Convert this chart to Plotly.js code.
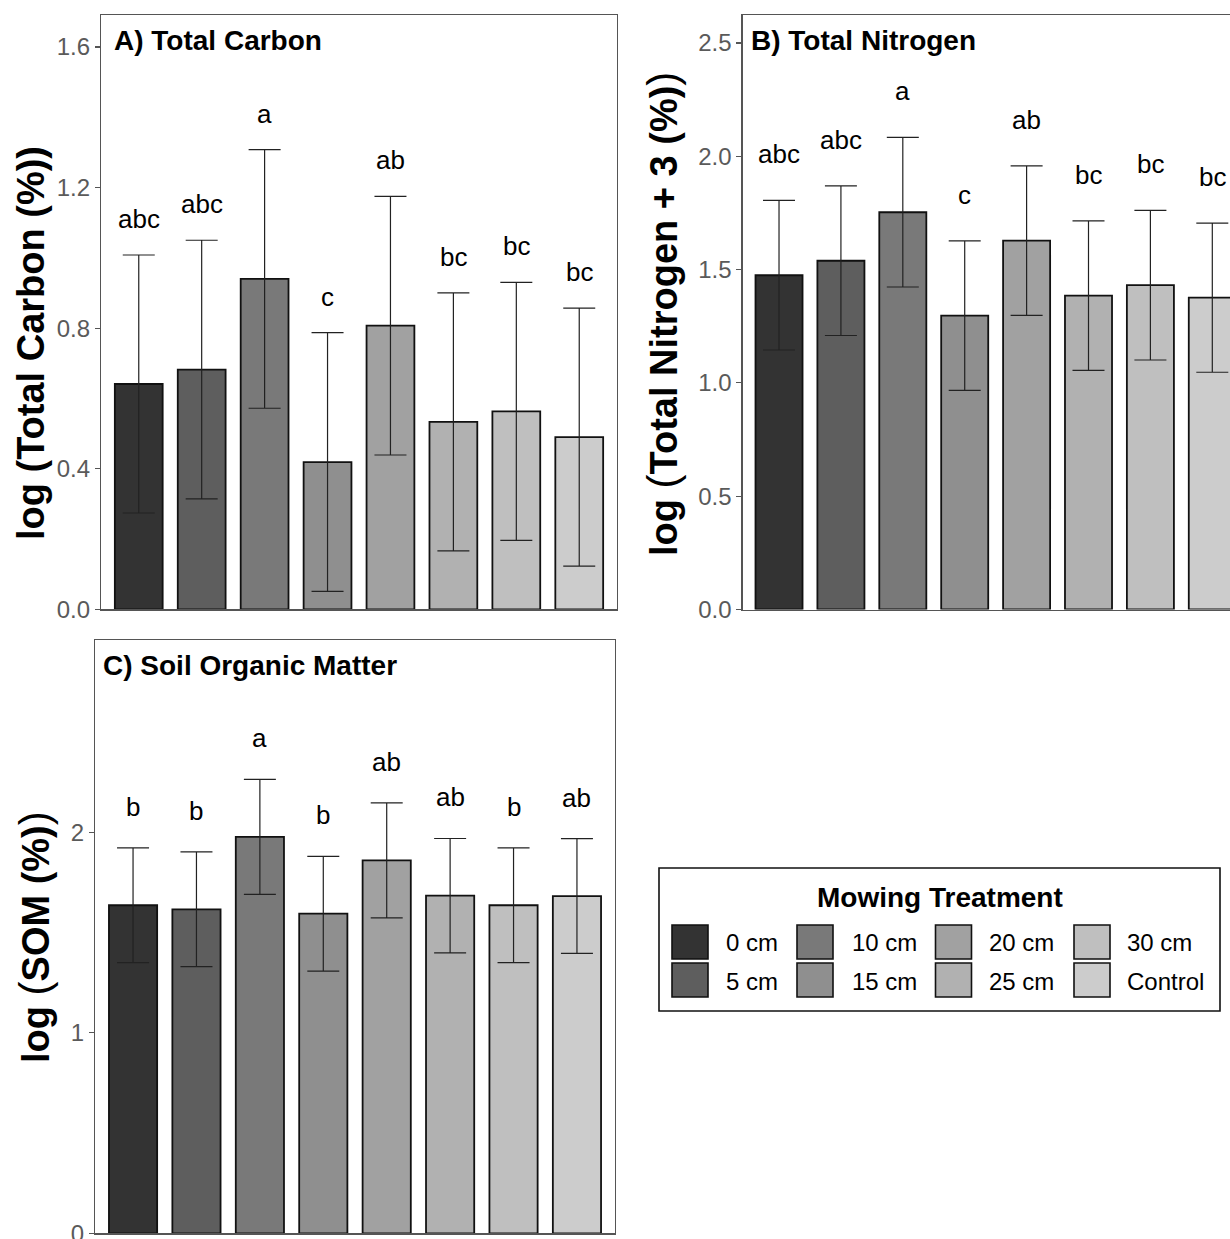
<!DOCTYPE html>
<html>
<head>
<meta charset="utf-8">
<script src="https://cdn.plot.ly/plotly-3.0.1.min.js"></script>
<style>html,body{margin:0;padding:0;background:#fff;}#chart{width:1230px;height:1239px;}</style>
</head>
<body>
<div id="chart"></div>
<script>
// ---------- data ----------
var categories = ['0 cm', '5 cm', '10 cm', '15 cm', '20 cm', '25 cm', '30 cm', 'Control'];
var fillColors = ['#333333', '#5E5E5E', '#797979', '#8F8F8F', '#A1A1A1', '#B1B1B1', '#BFBFBF', '#CCCCCC'];

var carbonMean = [0.641, 0.682, 0.940, 0.419, 0.807, 0.533, 0.563, 0.490];
var carbonErr = [0.367, 0.368, 0.368, 0.368, 0.368, 0.367, 0.367, 0.367];
var carbonLetters = ['abc', 'abc', 'a', 'c', 'ab', 'bc', 'bc', 'bc'];

var nitrogenMean = [1.475, 1.539, 1.753, 1.297, 1.628, 1.385, 1.431, 1.376];
var nitrogenErr = [0.330, 0.330, 0.330, 0.330, 0.330, 0.330, 0.330, 0.329];
var nitrogenLetters = ['abc', 'abc', 'a', 'c', 'ab', 'bc', 'bc', 'bc'];

var somMean = [1.636, 1.616, 1.977, 1.594, 1.860, 1.684, 1.636, 1.682];
var somErr = [0.286, 0.286, 0.287, 0.286, 0.287, 0.285, 0.286, 0.286];
var somLetters = ['b', 'b', 'a', 'b', 'ab', 'ab', 'b', 'ab'];

var panelTitles = ['A) Total Carbon', 'B) Total Nitrogen', 'C) Soil Organic Matter'];
var legendTitle = 'Mowing Treatment';

// ---------- layout helpers ----------
var W = 1230, H = 1239;
function px(x) { return x / W; }
function py(y) { return 1 - y / H; }
var FONT = 'Liberation Sans, Arial, sans-serif';

function barTrace(means, errs, xa, ya) {
  return {
    type: 'bar', x: categories, y: means, xaxis: xa, yaxis: ya,
    width: 0.76,
    marker: { color: fillColors, line: { color: '#111111', width: 1.8 } },
    error_y: { type: 'data', array: errs, visible: true, color: '#222222', thickness: 1.2, width: 16 },
    showlegend: false, hoverinfo: 'skip'
  };
}

var data = [
  barTrace(carbonMean, carbonErr, 'x', 'y'),
  barTrace(nitrogenMean, nitrogenErr, 'x2', 'y2'),
  barTrace(somMean, somErr, 'x3', 'y3')
];

function xAxis(domain, range, mirror) {
  return {
    domain: domain, range: range, type: 'category', categoryorder: 'array', categoryarray: categories,
    showticklabels: false, ticks: '', showgrid: false, zeroline: false,
    showline: true, linecolor: '#555555', linewidth: 1.2, mirror: mirror, fixedrange: true
  };
}
function yAxis(domain, range, dtick, fmt, anchor, mirror) {
  return {
    domain: domain, range: range, dtick: dtick, tick0: 0, tickformat: fmt, anchor: anchor,
    ticks: 'outside', ticklen: 5, tickwidth: 1.2, tickcolor: '#555555',
    tickfont: { family: FONT, size: 24, color: '#5a5a5a' },
    ticklabeloverflow: 'allow',
    showgrid: false, zeroline: false, showline: true, linecolor: '#555555', linewidth: 1.2,
    mirror: mirror, fixedrange: true
  };
}

var layout = {
  width: W, height: H,
  margin: { l: 0, r: 0, t: 0, b: 0, pad: 0 },
  paper_bgcolor: '#ffffff', plot_bgcolor: '#ffffff',
  font: { family: FONT, color: '#000000' },
  xaxis: xAxis([px(101), px(617)], [-0.6, 7.6], true),
  yaxis: yAxis([py(609.3), py(15.3)], [0, 1.69], 0.4, '.1f', 'x', true),
  xaxis2: xAxis([px(742.5), 1], [-0.59, 7.286], true),
  yaxis2: yAxis([py(609.5), py(15.3)], [0, 2.622], 0.5, '.1f', 'x2', false),
  xaxis3: xAxis([px(95), px(615)], [-0.6, 7.6], true),
  yaxis3: yAxis([py(1233.3), py(640)], [0, 2.959], 1, 'd', 'x3', true),
  annotations: [],
  shapes: []
};
layout.xaxis.anchor = 'y';
layout.xaxis2.anchor = 'y2';
layout.xaxis3.anchor = 'y3';

// significance letters
function addLetters(means, errs, letters, xa, ya, shift) {
  for (var i = 0; i < categories.length; i++) {
    layout.annotations.push({
      x: categories[i], y: means[i] + errs[i], xref: xa, yref: ya,
      text: letters[i], showarrow: false, yanchor: 'bottom', yshift: shift,
      font: { family: FONT, size: 26, color: '#000000' }
    });
  }
}
addLetters(carbonMean, carbonErr, carbonLetters, 'x', 'y', 19);
addLetters(nitrogenMean, nitrogenErr, nitrogenLetters, 'x2', 'y2', 29);
addLetters(somMean, somErr, somLetters, 'x3', 'y3', 24);

// panel titles
var titlePos = [[112, 40], [749, 40], [101, 665]];
for (var t = 0; t < 3; t++) {
  layout.annotations.push({
    x: px(titlePos[t][0]), y: py(titlePos[t][1]), xref: 'paper', yref: 'paper',
    xanchor: 'left', yanchor: 'middle', showarrow: false,
    text: '<b>' + panelTitles[t] + '</b>',
    font: { family: FONT, size: 28, color: '#000000' }
  });
}

// y-axis titles
var bigL = '<span style="font-size:42px;font-weight:normal">(</span>';
var bigR = '<span style="font-size:42px;font-weight:normal">)</span>';
var yTitles = [
  { text: '<b>log (Total Carbon (%))</b>', x: 31, y: 343 },
  { text: '<b>log </b>' + bigL + '<b>Total Nitrogen + 3 (%)</b>' + bigR, x: 662, y: 314 },
  { text: '<b>log </b>' + bigL + '<b>SOM (%)</b>' + bigR, x: 34, y: 937 }
];
yTitles.forEach(function (yt) {
  layout.annotations.push({
    x: px(yt.x), y: py(yt.y), xref: 'paper', yref: 'paper', textangle: -90,
    xanchor: 'center', yanchor: 'middle', showarrow: false, text: yt.text,
    font: { family: FONT, size: 38, color: '#000000' }
  });
});

// legend (drawn manually)
layout.shapes.push({
  type: 'rect', xref: 'paper', yref: 'paper',
  x0: px(659), x1: px(1220), y0: py(1011), y1: py(868),
  line: { color: '#111111', width: 1.6 }, fillcolor: 'rgba(0,0,0,0)'
});
layout.annotations.push({
  x: px(940), y: py(897), xref: 'paper', yref: 'paper', xanchor: 'center', yanchor: 'middle',
  showarrow: false, text: '<b>' + legendTitle + '</b>',
  font: { family: FONT, size: 28, color: '#000000' }
});
var colLeft = [672, 797, 935.5, 1074];
var labLeft = [724, 850, 987, 1125];
var rowTop = [925, 963];
for (var k = 0; k < categories.length; k++) {
  var c = Math.floor(k / 2), r = k % 2;
  layout.shapes.push({
    type: 'rect', xref: 'paper', yref: 'paper',
    x0: px(colLeft[c]), x1: px(colLeft[c] + 36), y0: py(rowTop[r] + 34), y1: py(rowTop[r]),
    line: { color: '#111111', width: 1.6 }, fillcolor: fillColors[k]
  });
  layout.annotations.push({
    x: px(labLeft[c]), y: py(rowTop[r] + 18), xref: 'paper', yref: 'paper',
    xanchor: 'left', yanchor: 'middle', showarrow: false, text: categories[k],
    font: { family: FONT, size: 24, color: '#000000' }
  });
}

Plotly.newPlot('chart', data, layout, { staticPlot: true, displayModeBar: false });
</script>
</body>
</html>
